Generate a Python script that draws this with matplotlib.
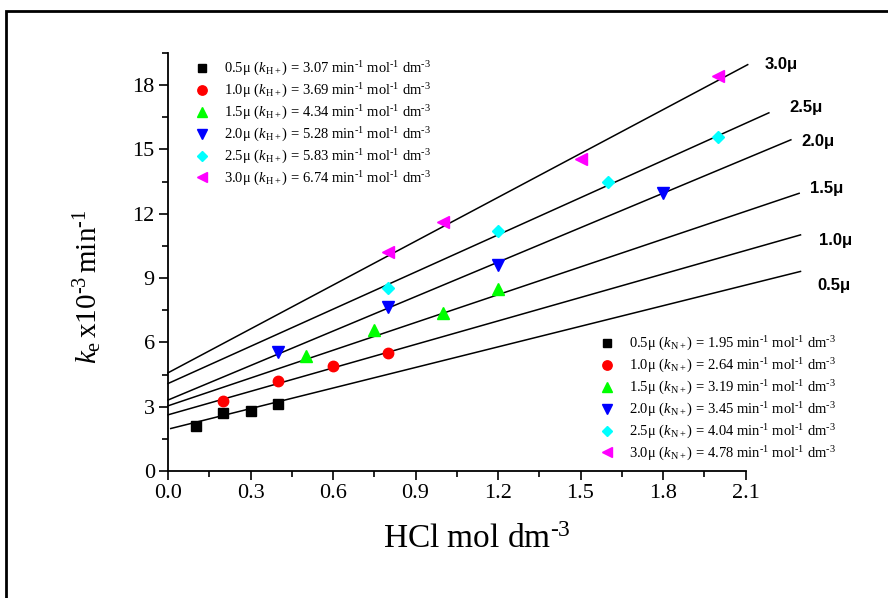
import matplotlib
matplotlib.use('Agg')
import matplotlib.pyplot as plt
from matplotlib.lines import Line2D
from matplotlib.patches import Rectangle
from matplotlib.ticker import MultipleLocator, FormatStrFormatter

# ---------------- data ----------------
ionic_strength = ['0.5', '1.0', '1.5', '2.0', '2.5', '3.0']

hcl_05 = [0.1, 0.2, 0.3, 0.4]
ke_05 = [2.11, 2.69, 2.81, 3.12]
hcl_10 = [0.2, 0.4, 0.6, 0.8]
ke_10 = [3.26, 4.20, 4.91, 5.50]
hcl_15 = [0.5, 0.75, 1.0, 1.2]
ke_15 = [5.35, 6.60, 7.35, 8.50]
hcl_20 = [0.4, 0.8, 1.2, 1.8]
ke_20 = [5.53, 7.66, 9.60, 12.97]
hcl_25 = [0.8, 1.2, 1.6, 2.0]
ke_25 = [8.52, 11.20, 13.47, 15.56]
hcl_30 = [0.8, 1.0, 1.5, 2.0]
ke_30 = [10.20, 11.60, 14.55, 18.45]

k_H = ['3.07', '3.69', '4.34', '5.28', '5.83', '6.74']
k_N = ['1.95', '2.64', '3.19', '3.45', '4.04', '4.78']

# fitted straight lines
fit_intercept = [1.95, 2.62, 3.04, 3.31, 4.08, 4.58]
fit_slope = [3.20, 3.65, 4.32, 5.36, 5.78, 6.82]
fit_x_start = [0.01, 0.0, 0.0, 0.0, 0.0, 0.0]
fit_x_end = [2.30, 2.30, 2.295, 2.265, 2.185, 2.108]

x_ticks = [0.0, 0.3, 0.6, 0.9, 1.2, 1.5, 1.8, 2.1]
y_ticks = [0, 3, 6, 9, 12, 15, 18]

# ---------------- style ----------------
plt.rcParams['font.family'] = ['Liberation Serif', 'DejaVu Serif']
plt.rcParams['mathtext.fontset'] = 'custom'
plt.rcParams['mathtext.rm'] = 'Liberation Serif'
plt.rcParams['mathtext.it'] = 'Liberation Serif:italic'
plt.rcParams['mathtext.bf'] = 'Liberation Serif:bold'

HY = '\u2010'  # short hyphen used in superscripts

colors = ['#000000', '#ff0000', '#00ff00', '#0000ff', '#00ffff', '#ff00ff']
markers = ['s', 'o', '^', 'v', 'D', '<']
msizes = [6.5, 7.5, 8.5, 8.5, 6.0, 8.5]

xs = [hcl_05, hcl_10, hcl_15, hcl_20, hcl_25, hcl_30]
ys = [ke_05, ke_10, ke_15, ke_20, ke_25, ke_30]

W, H = 888, 598
fig = plt.figure(figsize=(W / 100, H / 100), dpi=100)
ax = fig.add_axes([168 / W, 1 - 471 / H, 577.5 / W, 418 / H])

# outer frame (left and top edges visible)
fig.patches.append(Rectangle((6 / W, -0.2), 1.5, 1 - 11 / H + 0.2,
                             transform=fig.transFigure, fill=False,
                             lw=2.0, ec='black'))

for i in range(6):
    x0, x1 = fit_x_start[i], fit_x_end[i]
    ax.plot([x0, x1],
            [fit_intercept[i] + fit_slope[i] * x0, fit_intercept[i] + fit_slope[i] * x1],
            color='black', lw=1.1, clip_on=False, zorder=2)
    ax.plot(xs[i], ys[i], linestyle='none', marker=markers[i], ms=msizes[i],
            color=colors[i], mec=colors[i], zorder=3, clip_on=False)

# line labels
label_pos = [(2.363, 8.64), (2.367, 10.77), (2.334, 13.19),
             (2.305, 15.35), (2.259, 16.97), (2.169, 18.97)]
for i in range(6):
    ax.text(label_pos[i][0], label_pos[i][1], ionic_strength[i] + 'μ',
            fontfamily='Liberation Sans', fontweight='bold', fontsize=12,
            ha='left', va='center', clip_on=False)

ax.set_xlim(0, 2.1)
ax.set_ylim(0, 19.5)
ax.set_xticks(x_ticks)
ax.set_yticks(y_ticks)
ax.xaxis.set_major_formatter(FormatStrFormatter('%.1f'))
ax.xaxis.set_minor_locator(MultipleLocator(0.15))
ax.yaxis.set_minor_locator(MultipleLocator(1.5))
ax.spines['top'].set_visible(False)
ax.spines['right'].set_visible(False)
for s in ['left', 'bottom']:
    ax.spines[s].set_linewidth(1.3)
ax.tick_params(which='major', direction='out', length=6.5, width=1.2,
               labelsize=16, pad=3)
ax.tick_params(which='minor', direction='out', length=4, width=1.2)

ax.set_xlabel('HCl mol dm$^{\\mathrm{' + HY + '3}}$', fontsize=24)
ax.xaxis.set_label_coords(0.535, -0.127)
ax.set_ylabel('$k_{\\mathrm{e}}\\,\\mathrm{x10^{' + HY + '3}\\,min^{' + HY + '1}}$',
              fontsize=21)
ax.yaxis.set_label_coords(-0.11, 0.44)

# legends
handles = [Line2D([], [], linestyle='none', marker=markers[i], ms=msizes[i] * 0.9,
                  color=colors[i]) for i in range(6)]
tail = ' min$^{' + HY + '1}$ mol$^{' + HY + '1}$ dm$^{' + HY + '3}$'
lab_H = [ionic_strength[i] + 'μ ($k_{\\mathrm{H+}}$) = ' + k_H[i] + tail for i in range(6)]
lab_N = [ionic_strength[i] + 'μ ($k_{\\mathrm{N+}}$) = ' + k_N[i] + tail for i in range(6)]

leg_kw = dict(loc='upper left', frameon=False, fontsize=10.5, handlelength=1.0,
              handletextpad=1.0, labelspacing=0.25, borderpad=0, borderaxespad=0)
leg1 = fig.legend(handles, lab_H, bbox_to_anchor=(195 / W, 1 - 60 / H), **leg_kw)
leg2 = fig.legend(handles, lab_N, bbox_to_anchor=(600 / W, 1 - 335 / H), **leg_kw)

fig.savefig('out.png', dpi=100)
